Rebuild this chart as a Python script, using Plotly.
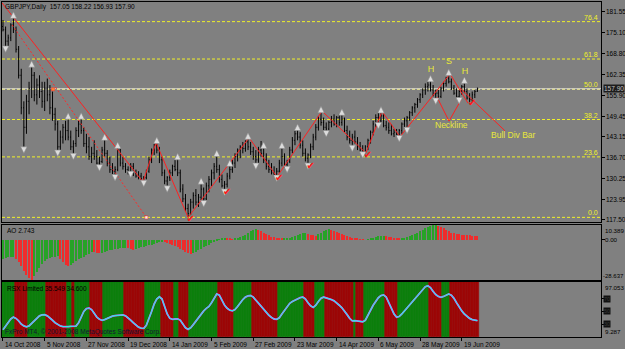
import plotly.graph_objects as go

# ---------------- data ----------------
symbol_title = "GBPJPY,Daily  157.05 158.22 156.93 157.90"

bar_open = [
    177, 176, 172.5, 173.5, 177.5, 176, 170, 162, 152, 146,
    154, 158, 162, 156, 159, 157, 154, 158, 156, 152,
    150, 147, 140, 143, 146, 145, 143, 140, 141, 145,
    147, 145, 141, 140, 137, 138, 137, 135, 135.5, 139,
    138, 135, 133, 132.5, 133, 139, 135, 134, 133, 132.5,
    134, 132, 131, 131, 130.2, 130.5, 132.5, 136, 139, 140.5,
    139, 136, 132, 129.5, 130.5, 132, 134, 133, 132, 127,
    124, 121, 119.5, 123, 125, 123, 124.5, 127, 124, 128,
    130, 132, 134, 133, 130, 128, 128.5, 131, 133, 135,
    137, 139, 140, 139.5, 141.5, 140, 138.5, 137, 136, 139,
    138, 136, 134, 133, 132, 131.5, 132.5, 135, 137, 134.5,
    135.5, 139, 142, 144, 143, 140.5, 138, 136.5, 137.5, 140,
    143, 146, 148.5, 147.5, 146, 145.5, 147.5, 148.5, 147, 149,
    147.5, 148.5, 145, 143, 142, 143, 141.5, 140, 139, 138.5,
    140, 142, 144.5, 147, 149, 148, 149.5, 146.5, 146, 145,
    144, 144.5, 143.8, 145, 147, 148, 149, 150.5, 152, 153,
    154.5, 156, 157.5, 158.5, 159, 157.5, 156, 156.5, 155.5, 158,
    159.5, 161, 160, 158, 156.5, 155.5, 157, 158.5, 157, 155,
    154.5, 156, 157.05]
bar_high = [
    179, 177, 174.5, 178, 180, 177, 171, 164, 154, 156,
    160, 165, 163, 161, 162, 160, 160, 161, 159, 157,
    152, 148, 145, 147, 148, 149, 145, 142, 146, 148,
    149, 146, 144, 143, 140, 142, 139, 137, 140, 142.5,
    139, 137, 135, 134, 140, 139.5, 137, 135, 134, 135,
    135, 133, 132.5, 132, 131, 133, 137, 139.5, 141, 141.5,
    140, 137, 133, 131, 133, 134.5, 136, 136.5, 133, 128.5,
    125.5, 122.5, 124, 126, 127, 125.5, 129, 127.5, 129, 131,
    133, 135, 137.5, 134.5, 131.5, 129.5, 132, 134.5, 136, 138,
    139.5, 140.5, 141.5, 142, 142.8, 141.5, 140, 139, 140, 141.8,
    140, 138, 136, 135, 134, 133.5, 136, 140, 138, 136,
    140, 143, 145, 145.5, 144.5, 142, 139.5, 138, 141, 144,
    147, 149.5, 151, 149, 147.5, 148, 149.5, 150, 149.5, 150,
    150.2, 149, 146.5, 145, 144, 145, 143, 141.5, 140.5, 140.5,
    142.5, 145, 148, 150, 150.5, 150.9, 150, 148, 147.5, 147,
    145.5, 145.5, 145.5, 147.5, 149, 149.5, 151, 152.5, 153.5, 155,
    156.5, 158, 159.5, 160, 160.5, 159, 157.5, 157.5, 158.5, 160,
    161.5, 162.4, 161, 159, 158, 157.5, 159, 160, 158, 156.5,
    157, 157.5, 158.22]
bar_low = [
    175.5, 170.5, 171, 172.5, 175, 169, 161, 150, 139.5, 144,
    150, 155, 154, 153, 155, 152, 151, 154, 150, 148,
    145, 138.5, 139, 141, 142, 142, 139, 137.5, 140, 143,
    144, 140, 138, 136, 135, 136, 134.5, 134, 135, 137,
    134, 132, 131.5, 131, 132.5, 134, 133, 132, 131.5, 132,
    131, 130.5, 130, 129.8, 129.2, 130, 132, 135, 137.5, 138,
    135, 131, 128.5, 127.5, 129.5, 131, 132.5, 131, 126, 123,
    120, 118.3, 119, 121, 122, 121.5, 123.5, 123, 123.5, 126,
    128, 130, 132, 129, 127.5, 126.5, 127.5, 130, 132, 133.5,
    135.5, 136.5, 138, 138.5, 139, 137.5, 136, 134.5, 135, 137,
    135, 133, 132, 131.5, 131, 130.8, 132, 134, 133.5, 133.5,
    135, 138, 140.5, 142, 139.5, 137, 135.5, 134.5, 136.5, 139,
    142, 145, 146.5, 145, 144.5, 145, 146, 146.5, 146, 146.5,
    146.5, 144.5, 142, 141, 140, 141, 139, 138.5, 138, 138,
    139, 141, 143.5, 146, 147, 147.5, 146, 145, 144, 143.5,
    143, 143.2, 143, 144, 145.5, 145.5, 148, 149.5, 150.5, 152,
    153.5, 155, 156, 157, 157, 155.5, 154.5, 155, 155, 157,
    158.5, 159.5, 157.5, 156, 155, 154.7, 156, 156.5, 154.5, 153.8,
    154, 155, 156.93]
bar_close = [
    176, 172.5, 173.5, 177.5, 176, 170, 162, 152, 146, 154,
    158, 162, 156, 159, 157, 154, 158, 156, 152, 150,
    147, 140, 143, 146, 145, 143, 140, 141, 145, 147,
    145, 141, 140, 137, 138, 137, 135, 135.5, 139, 138,
    135, 133, 132.5, 133, 139, 135, 134, 133, 132.5, 134,
    132, 131, 131, 130.2, 130.5, 132.5, 136, 139, 140.5, 139,
    136, 132, 129.5, 130.5, 132, 134, 133, 132, 127, 124,
    121, 119.5, 123, 125, 123, 124.5, 127, 124, 128, 130,
    132, 134, 133, 130, 128, 128.5, 131, 133, 135, 137,
    139, 140, 139.5, 141.5, 140, 138.5, 137, 136, 139, 138,
    136, 134, 133, 132, 131.5, 132.5, 135, 137, 134.5, 135.5,
    139, 142, 144, 143, 140.5, 138, 136.5, 137.5, 140, 143,
    146, 148.5, 147.5, 146, 145.5, 147.5, 148.5, 147, 149, 147.5,
    148.5, 145, 143, 142, 143, 141.5, 140, 139, 138.5, 140,
    142, 144.5, 147, 149, 148, 149.5, 146.5, 146, 145, 144,
    144.5, 143.8, 145, 147, 148, 149, 150.5, 152, 153, 154.5,
    156, 157.5, 158.5, 159, 157.5, 156, 156.5, 155.5, 158, 159.5,
    161, 160, 158, 156.5, 155.5, 157, 158.5, 157, 155, 154.5,
    156, 157, 157.90]

ao_values = [
    -13.5, -13, -12.6, -12.2, -12.0,
    -13.5, -16, -19, -22, -25, -27.5, -28.637,
    -26, -23, -20, -17.5,
    -15.5, -14, -13, -12.5, -12, -11.8,
    -13.5, -16, -18, -19,
    -18, -16.5, -15, -14, -13, -12, -11, -10, -8.5,
    -9, -9.4, -9.8,
    -9.2, -8.6, -8, -7.5, -7, -6.6, -6.3, -6, -5.8, -5.6,
    -6, -6.5, -7,
    -6.5, -6, -5.5, -5, -4.5, -4, -3.5, -3, -2.5, -2, -1.5,
    -2, -2.6, -3.2, -3.8, -4.5, -5.5, -6.5, -7.5, -8.5, -9.3, -10,
    -9.5, -8.5, -7.5, -6.5, -5.5, -4.5, -3.5, -2.5, -1.5, -0.8, 0.2, 0.9, 1.5,
    1.2, 0.8, 0.4,
    0.6, 1.1, 1.8, 2.6, 3.5, 4.5, 5.8, 6.8, 7.2,
    6.8, 6, 5, 4, 3, 2.2, 1.6, 1.2, 0.9, 0.7,
    0.9, 1.2, 1.5, 1.9, 2.5, 3.2, 3.9, 4.5, 5,
    4.2, 3.5, 3, 2.8,
    3.8, 4.8, 5.8, 6.6, 7.2,
    6.8, 6.2, 5.5, 4.8, 4, 3.3, 2.6, 2, 1.5, 1.0, 0.6, 0.3, 0.1, 0.0,
    0.4, 0.9, 1.4, 1.9, 2.3, 2.6, 2.8,
    2.5, 2.1, 1.7, 1.3, 0.9, 0.5,
    0.6, 1.0, 1.6, 2.3, 3.1, 4.0, 5.0, 6.0, 7.0, 8.0, 8.9, 9.6, 10.1, 10.389,
    9.8, 8.9, 8.0, 7.0, 6.0, 5.0, 4.6, 4.1, 3.7, 3.4, 3.2, 3.05, 2.95, 2.88, 2.8, 2.743]

rsx_values = [
    21, 27, 33, 38, 41, 39, 35, 30, 27, 25.5,
    27, 31, 36, 40, 43, 44.5, 45, 43, 40, 36,
    32, 29, 27, 26, 25.5, 26, 26.3, 25.9, 26.6, 32,
    42, 50, 54.5, 55.5, 53, 47, 41, 37.5, 36, 37,
    39, 41, 42.5, 43.5, 44, 44.3, 44.5, 43, 40, 36,
    32, 28, 25, 23.5, 23, 28, 38, 50, 62, 70,
    73.5, 70, 58, 46, 39, 37.5, 38, 38.3, 36, 30,
    24, 21.5, 24, 29, 35, 41, 46, 51, 55, 58,
    64, 72, 78, 76, 68, 60, 55, 52, 51, 53,
    58, 64, 69, 73, 75, 75.5, 73, 68, 63, 58,
    53, 48, 44, 40.5, 38, 37.5, 40, 46, 52, 58,
    63, 66, 68, 70.5, 72, 73, 70, 64, 59, 56.5,
    60, 66, 71, 73, 72, 70.5, 69, 67, 64, 60,
    56, 51, 45, 39, 35, 35.3, 34.6, 34, 33.6, 36,
    43, 52, 60, 67, 72, 75.5, 76.5, 73, 63, 53,
    46, 41, 42, 46, 51, 56, 61, 66, 71, 76,
    81, 86, 89.5, 91, 88, 82, 77, 74, 72.5, 74,
    76.5, 78, 76, 71, 64, 57, 51, 46, 42, 39,
    37, 36, 35.549]

# bar index where each RSX colour band starts (alternating, first = rising/green)
rsx_band_starts = [0, 5, 10, 17, 25, 27, 28, 34, 39, 47, 55, 61, 66, 68, 72, 83,
                   89, 96, 106, 116, 120, 124, 135, 136, 139, 147, 152, 164, 169, 172]

date_index = [0, 16, 32, 48, 64, 80, 96, 112, 128, 144, 160, 176]
date_labels = ["14 Oct 2008", "5 Nov 2008", "27 Nov 2008", "19 Dec 2008", "14 Jan 2009",
               "5 Feb 2009", "27 Feb 2009", "23 Mar 2009", "14 Apr 2009", "6 May 2009",
               "28 May 2009", "19 Jun 2009"]

price_labels = [181.55, 175.10, 168.80, 162.35, 155.90, 149.45, 143.15, 136.70, 130.25, 123.95, 117.50]
fib_levels = [118.3, 136.9, 148.4, 157.7, 167.0, 178.5]
fib_names = ["0.0", "23.6", "38.2", "50.0", "61.8", "76.4"]
bid_price = 157.90

ao_min, ao_max = -28.637, 10.389
rsx_min, rsx_max = 9.287, 97.053
rsx_levels = [70, 50, 30]

up_fractals = [4, 11, 25, 30, 39, 44, 59, 67, 76, 82, 87, 94, 100, 107, 113, 122, 130, 145, 164, 171, 177]
down_fractals = [1, 8, 21, 27, 37, 43, 49, 54, 63, 77, 85, 97, 105, 109, 117, 124, 134, 138, 144, 152, 155, 166, 175]
check_bars = [71, 85, 105, 117, 139, 179]

zigzag_x = [-0.4, 53.7, 58.7, 71, 94.4, 105.1, 122.4, 139.2, 145.4, 152.3, 171.5, 178.4]
zigzag_y = [184.3, 129.2, 141.3, 118.3, 142.8, 130.8, 151.0, 138.1, 150.9, 143.1, 162.4, 153.4]
trend_x = [3.5, 55.0]
trend_y = [177.5, 118.3]
trend_dots_x = [19.2, 55.0]
trend_dots_y = [157.7, 118.3]
vshape_x = [166.5, 171.1, 175.7]
vshape_y = [155.3, 147.9, 154.4]
pointer_x = [175.3, 192.6]
pointer_y = [158.1, 144.9]

hs_x = [164.2, 171.1, 177.2]
hs_y = [163.6, 166.1, 163.0]
hs_text = ["H", "S", "H"]

# ---------------- figure ----------------
W, H = 625, 349
N = len(bar_close)
assert all(len(a) == N for a in [bar_open, bar_high, bar_low, ao_values, rsx_values])
xs = list(range(N))

BG = "#808080"
GREEN = "#0c7f0c"
RED = "#9c0606"
FONT = "Liberation Sans, Arial, sans-serif"

def py(p):  # pixel row -> paper fraction
    return 1 - p / H

fig = go.Figure()

# RSX background bands
band_col = []
state = 0
for i in xs:
    while state + 1 < len(rsx_band_starts) and i >= rsx_band_starts[state + 1]:
        state += 1
    band_col.append(GREEN if state % 2 == 0 else RED)
fig.add_trace(go.Bar(x=xs, y=[rsx_max - rsx_min] * N, base=rsx_min, width=1.0,
                     marker=dict(color=band_col, line=dict(width=0.6, color=band_col)),
                     xaxis="x3", yaxis="y3"))
fig.add_trace(go.Scatter(x=xs, y=rsx_values, mode="lines", line=dict(color="#ff33ff", width=1.8),
                         xaxis="x3", yaxis="y3"))
fig.add_trace(go.Scatter(x=xs, y=rsx_values, mode="lines", line=dict(color="#30e8e8", width=1.2),
                         xaxis="x3", yaxis="y3"))

# AO histogram
ao_col = ["#27a327" if (i == 0 or ao_values[i] > ao_values[i - 1]) else "#ef2c2c" for i in xs]
fig.add_trace(go.Bar(x=xs, y=ao_values, width=0.42, marker=dict(color=ao_col, line=dict(width=0)),
                     xaxis="x2", yaxis="y2"))

# OHLC bars
fig.add_trace(go.Ohlc(x=xs, open=bar_open, high=bar_high, low=bar_low, close=bar_close,
                      increasing=dict(line=dict(color="black", width=1)),
                      decreasing=dict(line=dict(color="black", width=1)),
                      tickwidth=0.3, xaxis="x", yaxis="y"))

# dotted trend line
fig.add_trace(go.Scatter(x=trend_x, y=trend_y, mode="lines",
                         line=dict(color="#ff2a2a", width=1, dash="2px,2px"), xaxis="x", yaxis="y"))
fig.add_trace(go.Scatter(x=trend_dots_x, y=trend_dots_y, mode="markers",
                         marker=dict(symbol="square", size=3, color=["#ff8a30", "#f0f0f0"],
                                     line=dict(width=0.5, color="#ff2a2a")), xaxis="x", yaxis="y"))
# zigzag + drawings
fig.add_trace(go.Scatter(x=zigzag_x, y=zigzag_y, mode="lines", line=dict(color="#ff2020", width=1),
                         xaxis="x", yaxis="y"))
fig.add_trace(go.Scatter(x=vshape_x, y=vshape_y, mode="lines", line=dict(color="#ff2020", width=1),
                         xaxis="x", yaxis="y"))
fig.add_trace(go.Scatter(x=pointer_x, y=pointer_y, mode="lines", line=dict(color="#ff2020", width=1),
                         xaxis="x", yaxis="y"))

# fractal arrows
fig.add_trace(go.Scatter(x=up_fractals, y=[bar_high[i] + 1.5 for i in up_fractals], mode="markers",
                         marker=dict(symbol="arrow-up", size=6.5, color="#dcdcdc",
                                     line=dict(width=0.6, color="#8a8a8a")), xaxis="x", yaxis="y"))
fig.add_trace(go.Scatter(x=down_fractals, y=[bar_low[i] - 1.5 for i in down_fractals], mode="markers",
                         marker=dict(symbol="arrow-down", size=6.5, color="#dcdcdc",
                                     line=dict(width=0.6, color="#8a8a8a")), xaxis="x", yaxis="y"))
# red check marks
fig.add_trace(go.Scatter(x=[i + 1 for i in check_bars], y=[bar_low[i] - 0.6 for i in check_bars],
                         mode="text", text=["\u2714"] * len(check_bars),
                         textfont=dict(family="DejaVu Sans", size=10, color="#ff1818"),
                         xaxis="x", yaxis="y"))
# H S H
fig.add_trace(go.Scatter(x=hs_x, y=hs_y, mode="text", text=hs_text,
                         textfont=dict(family=FONT, size=9, color="#e8e83a"), xaxis="x", yaxis="y"))

shapes = []
# bid line
shapes.append(dict(type="line", xref="x domain", x0=0, x1=1, yref="y", y0=bid_price, y1=bid_price,
                   line=dict(color="#c9c9c9", width=1), layer="below"))
for lvl, name in zip(fib_levels, fib_names):
    shapes.append(dict(type="line", xref="x domain", x0=0, x1=1, yref="y", y0=lvl, y1=lvl,
                       line=dict(color="#f0f028" if name != "50.0" else "#f4f090", width=1, dash="3px,2px"),
                       layer="below"))

ann = []
def txt(x, y, s, xref="paper", yref="paper", xa="left", ya="middle", size=6.5, color="black", **kw):
    ann.append(dict(x=x, y=y, xref=xref, yref=yref, text=s, showarrow=False, xanchor=xa, yanchor=ya,
                    font=dict(family=FONT, size=size, color=color), **kw))

txt(3 / W, py(7), symbol_title)
txt(5 / W, py(230.5), "AO 2.743")
txt(5 / W, py(288.5), "RSX Limited 35.549 34.600")
txt(3 / W, py(331.5), "FxPro MT4, \u00a9 2001-2008 MetaQuotes Software Corp.", color="#141436")
for lvl, name in zip(fib_levels, fib_names):
    txt(0.997, lvl, name, xref="x domain", yref="y", xa="right", ya="bottom", size=7, color="#f0f028",
        borderpad=0)
txt(172, 146.7, "Neckline", xref="x", yref="y", xa="center", size=8.5, color="#e8e83a")
txt(196, 143.6, "Bull Div Bar", xref="x", yref="y", xa="center", size=8.5, color="#e8e83a")

for v in price_labels:
    txt(604 / W, v, f"{v:.2f}", yref="y")
txt(603 / W, bid_price, f"{bid_price:.2f}", yref="y", color="#c0c0c0", bgcolor="#1c1c1c", borderpad=0)
txt(603 / W, ao_max, f"{ao_max:.3f}", yref="y2", ya="top", size=6.2)
txt(603 / W, 0, "0.00", yref="y2", size=6.2)
txt(602 / W, ao_min, f"{ao_min:.3f}", yref="y2", ya="bottom", size=6.0, borderpad=0)
txt(603 / W, rsx_max, f"{rsx_max:.3f}", yref="y3", ya="top", size=6.2)
txt(603 / W, rsx_min, f"{rsx_min:.3f}", yref="y3", ya="bottom", size=6.2)
for lv in rsx_levels:
    txt(603 / W, lv, str(lv), yref="y3", size=5.5, color="#3a3a3a", bgcolor="#111111", borderpad=0)
for i, lab in zip(date_index, date_labels):
    txt(i, py(344.5), lab, xref="x3")

x0d, x1d = 2 / W, 601 / W
xr = [-0.38, 229.4]
axstyle = dict(showgrid=False, zeroline=False, showline=True, mirror=True, linecolor="black",
               linewidth=1)
fig.update_layout(
    width=W, height=H, margin=dict(l=0, r=0, t=0, b=0),
    paper_bgcolor=BG, plot_bgcolor=BG, showlegend=False, hovermode=False,
    bargap=0, barmode="overlay",
    xaxis=dict(domain=[x0d, x1d], range=xr, anchor="y", showticklabels=False, ticks="",
               rangeslider=dict(visible=False), **axstyle),
    xaxis2=dict(domain=[x0d, x1d], matches="x", anchor="y2", showticklabels=False, ticks="", **axstyle),
    xaxis3=dict(domain=[x0d, x1d], matches="x", anchor="y3", showticklabels=False, ticks="outside",
                tickvals=date_index, ticklen=3, tickcolor="black", **axstyle),
    yaxis=dict(domain=[py(222), py(1.5)], range=[116.88, 184.69], anchor="x", side="right",
               tickvals=price_labels, ticks="outside", ticklen=3, tickcolor="black",
               showticklabels=False, **axstyle),
    yaxis2=dict(domain=[py(280), py(225)], range=[ao_min, ao_max], anchor="x2", side="right",
                tickvals=[0], ticks="outside", ticklen=3, tickcolor="black", showticklabels=False, **axstyle),
    yaxis3=dict(domain=[py(337), py(282)], range=[rsx_min, rsx_max], anchor="x3", side="right",
                tickvals=rsx_levels, ticks="outside", ticklen=3, tickcolor="black",
                showticklabels=False, **axstyle),
    shapes=shapes, annotations=ann,
)

fig.write_html("out.html")
